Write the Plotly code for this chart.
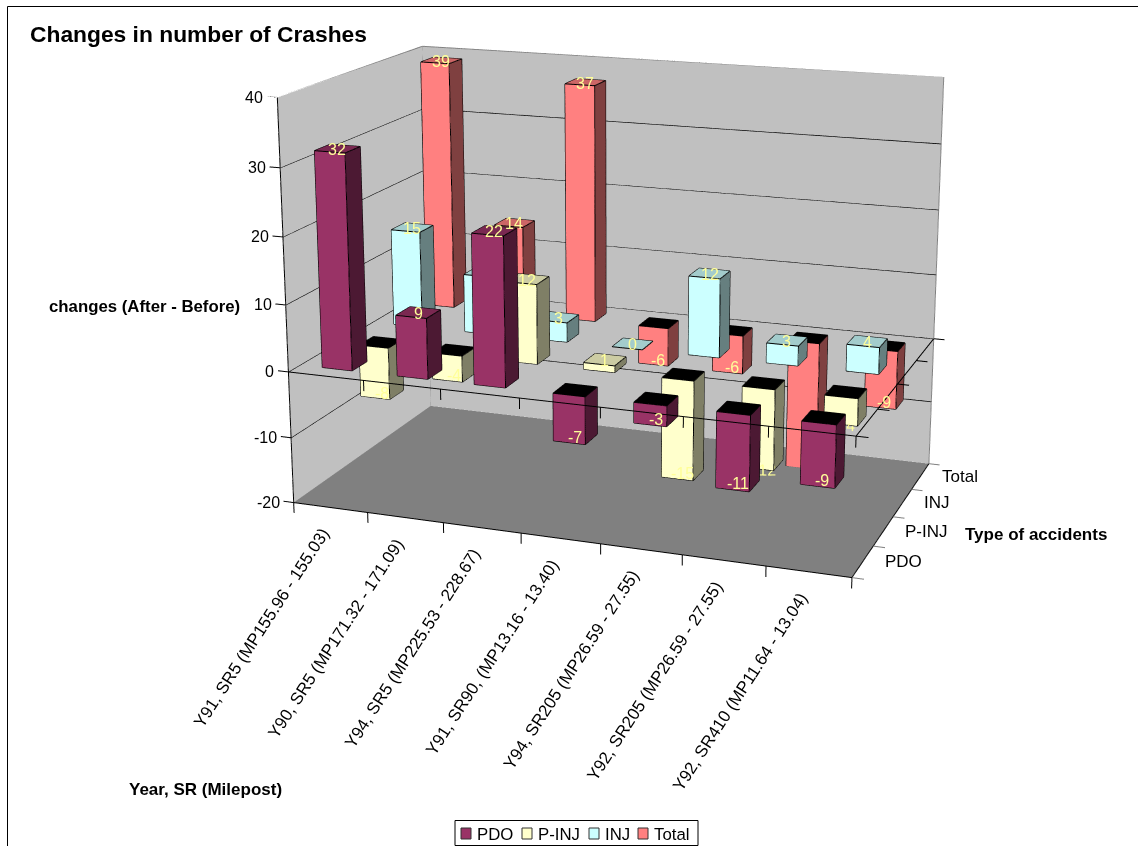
import plotly.graph_objects as go

categories = ["Y91, SR5 (MP155.96 - 155.03)", "Y90, SR5 (MP171.32 - 171.09)", "Y94, SR5 (MP225.53 - 228.67)",
              "Y91, SR90, (MP13.16 - 13.40)", "Y94, SR205 (MP26.59 - 27.55)", "Y92, SR205 (MP26.59 - 27.55)",
              "Y92, SR410 (MP11.64 - 13.04)"]
series_names = ["PDO", "P-INJ", "INJ", "Total"]
pdo = [32, 9, 22, -7, -3, -11, -9]
p_inj = [-8, -4, 12, 1, -15, -12, -4]
inj = [15, 9, 3, 0, 12, 3, 4]
total = [39, 14, 37, -6, -6, -20, -9]
series_values = [pdo, p_inj, inj, total]
colors = ["#993366", "#FFFFCC", "#CCFFFF", "#FF8080"]
z_ticks = [-20, -10, 0, 10, 20, 30, 40]
# labels that sit behind another bar in the reference: (series, category)
occluded = {(2, 1), (1, 5), (3, 5), (1, 6)}

WIN_W, WIN_H = 1138, 846
FIG_H = 1859
TOP = -640
HALF = 0.2
ZMIN, ZMAX = z_ticks[0], z_ticks[-1]
NX, NY = len(categories), len(series_names)
FONT = "Liberation Sans, Arial, sans-serif"
LABEL = "#FFFF99"
XPAD, ZPAD = .14, 1.6


def shade(c, f):
    r, g, b = int(c[1:3], 16), int(c[3:5], 16), int(c[5:7], 16)
    return "rgb(%d,%d,%d)" % (r * f, g * f, b * f)


def px(x):
    return x / WIN_W


def py(y):
    return 1 - (y - TOP) / FIG_H


traces = []
lx, ly, lz = [], [], []


def seg(*pts):
    for p in pts:
        lx.append(p[0]); ly.append(p[1]); lz.append(p[2])
    lx.append(None); ly.append(None); lz.append(None)


for s, (vals, col) in enumerate(zip(series_values, colors)):
    X, Y, Z, I, J, K, FC = [], [], [], [], [], [], []
    for c, v in enumerate(vals):
        x0, x1 = c + .5 - HALF, c + .5 + HALF
        y0, y1 = s + .5 - HALF, s + .5 + HALF
        z0, z1 = min(0, v), max(0, v)
        n = len(X)
        for zz in (z0, z1):
            for xx, yy in ((x0, y0), (x1, y0), (x1, y1), (x0, y1)):
                X.append(xx); Y.append(yy); Z.append(zz)
        top = "rgb(0,0,0)" if v < 0 else shade(col, .8)
        side = shade(col, .5)
        quads = [((0, 1, 5, 4), shade(col, 1)), ((1, 2, 6, 5), side), ((2, 3, 7, 6), side),
                 ((3, 0, 4, 7), side), ((4, 5, 6, 7), top), ((0, 1, 2, 3), shade(col, .8))]
        for q, fc in quads:
            a, b, cc, d = [n + t for t in q]
            I += [a, a]; J += [b, cc]; K += [cc, d]; FC += [fc, fc]
        for a, b in ((0, 1), (1, 2), (2, 3), (3, 0), (4, 5), (5, 6), (6, 7), (7, 4), (0, 4), (1, 5), (2, 6), (3, 7)):
            seg((X[n + a], Y[n + a], Z[n + a]), (X[n + b], Y[n + b], Z[n + b]))
    traces.append(go.Mesh3d(x=X, y=Y, z=Z, i=I, j=J, k=K, facecolor=FC, flatshading=True, name=series_names[s],
                            lighting=dict(ambient=1, diffuse=0, specular=0, fresnel=0, roughness=1),
                            hoverinfo="skip", showscale=False))

# grey wall outlines and floor side ticks
gx, gy, gz = [], [], []
grey = [((0, 0, ZMAX), (0, NY, ZMAX)), ((0, NY, ZMAX), (NX, NY, ZMAX)), ((0, NY, ZMAX), (0, NY, ZMIN)),
        ((NX, NY, ZMAX), (NX, NY, ZMIN))]
grey += [((NX, s, ZMIN), (NX + XPAD, s, ZMIN)) for s in range(NY + 1)]
for a, b in grey:
    gx += [a[0], b[0], None]; gy += [a[1], b[1], None]; gz += [a[2], b[2], None]
traces.append(go.Scatter3d(x=gx, y=gy, z=gz, mode="lines", line=dict(color="#808080", width=2),
                           hoverinfo="skip", showlegend=False))

# gridlines on walls
for t in z_ticks[1:-1]:
    seg((0, 0, t), (0, NY, t), (NX, NY, t))
# value axis and its ticks
seg((0, 0, ZMIN), (0, 0, ZMAX))
for t in z_ticks:
    seg((0, 0, t), (-XPAD, 0, t))
# floor front and right edges with ticks
seg((0, 0, ZMIN), (NX, 0, ZMIN), (NX, NY, ZMIN))
for c in range(NX + 1):
    seg((c, 0, ZMIN), (c, 0, ZMIN - ZPAD))
# zero plane front and right edges with ticks
seg((0, 0, 0), (NX, 0, 0), (NX, NY, 0))
for c in range(NX + 1):
    seg((c, 0, 0), (c, 0, -ZPAD))
for s in range(NY + 1):
    seg((NX, s, 0), (NX + XPAD, s, 0))
traces.append(go.Scatter3d(x=lx, y=ly, z=lz, mode="lines", line=dict(color="black", width=2),
                           hoverinfo="skip", showlegend=False))

# data labels
ann3 = []
ox, oy, oz, ot = [], [], [], []
for s, vals in enumerate(series_values):
    for c, v in enumerate(vals):
        if (s, c) in occluded:
            ox.append(c + .5 + .09); oy.append(s + .5 - HALF - .01); oz.append(v); ot.append(str(v))
        else:
            ann3.append(dict(x=c + .5, y=s + .5, z=v, text=str(v), showarrow=False, xanchor="center", yanchor="middle",
                             yshift=-1 if v >= 0 else 0, font=dict(family=FONT, size=16, color=LABEL)))
traces.append(go.Scatter3d(x=ox, y=oy, z=oz, text=ot, mode="text", textposition="middle center",
                           textfont=dict(family=FONT, size=16, color=LABEL), hoverinfo="skip", showlegend=False))

# tick labels
for t in z_ticks:
    ann3.append(dict(x=0, y=0, z=t, text=str(t), showarrow=False, xanchor="right", yanchor="middle", xshift=-12,
                     font=dict(family=FONT, size=16, color="black")))
for s, name in enumerate(series_names):
    ann3.append(dict(x=NX, y=s + .5, z=ZMIN, text=name, showarrow=False, xanchor="left", yanchor="middle", xshift=20,
                     font=dict(family=FONT, size=17, color="black")))
for c, name in enumerate(categories):
    ann3.append(dict(x=c + .5, y=0, z=ZMIN, text=name, showarrow=False, xanchor="right", yanchor="top", textangle=-57,
                     xshift=5, yshift=-15, font=dict(family=FONT, size=17, color="black")))

# page-level text
annotations = [
    dict(x=px(28), y=py(34), text="<b>Changes in number of Crashes</b>", font=dict(size=22.8)),
    dict(x=px(47), y=py(306), text="<b>changes (After - Before)</b>", font=dict(size=16.8)),
    dict(x=px(963), y=py(534), text="<b>Type of accidents</b>", font=dict(size=17)),
    dict(x=px(127), y=py(789), text="<b>Year, SR (Milepost)</b>", font=dict(size=17)),
]
for a in annotations:
    a.update(xref="paper", yref="paper", xanchor="left", yanchor="middle", showarrow=False)
    a["font"].update(family=FONT, color="black")

shapes = [
    dict(type="line", xref="paper", yref="paper", x0=px(7.5), x1=px(7.5), y0=py(6.5), y1=py(846), line=dict(color="black", width=1)),
    dict(type="line", xref="paper", yref="paper", x0=px(7.5), x1=px(1138), y0=py(6.5), y1=py(6.5), line=dict(color="black", width=1)),
    dict(type="rect", xref="paper", yref="paper", x0=px(455), x1=px(698), y0=py(820.5), y1=py(845.5),
         line=dict(color="black", width=1), fillcolor="white"),
]
swatch_x = [461, 522, 589, 638]
for name, col, sx in zip(series_names, colors, swatch_x):
    shapes.append(dict(type="rect", xref="paper", yref="paper", x0=px(sx), x1=px(sx + 10), y0=py(828), y1=py(839),
                       line=dict(color="#333333", width=1), fillcolor=col))
    annotations.append(dict(xref="paper", yref="paper", x=px(sx + 14), y=py(834), text=name, xanchor="left", yanchor="middle",
                            showarrow=False, font=dict(family=FONT, size=16.8, color="black")))

hidden = dict(showticklabels=False, ticks="", showline=False, zeroline=False, showgrid=False, showspikes=False,
              showbackground=False, title=dict(text=""))
# camera solved on the un-padded cube; the padded ranges keep tick marks from being clipped
ASPECT_X, ASPECT_Y, ASPECT_Z = 1, 0.5753, 0.7162
zrange = ZMAX - ZMIN
dz = ZPAD / 2 / (zrange + ZPAD) * ASPECT_Z * (zrange + ZPAD) / zrange
scene = dict(
    domain=dict(x=[99.8 / WIN_W, 1], y=[0, 1]),
    xaxis=dict(range=[-XPAD, NX + XPAD], **hidden),
    yaxis=dict(range=[0, NY], **hidden),
    zaxis=dict(range=[ZMIN - ZPAD, ZMAX], **hidden),
    aspectmode="manual",
    aspectratio=dict(x=ASPECT_X * (NX + 2 * XPAD) / NX, y=ASPECT_Y, z=ASPECT_Z * (zrange + ZPAD) / zrange),
    camera=dict(eye=dict(x=1.2849, y=-3.5595, z=1.0268 + dz), center=dict(x=0, y=0, z=dz), up=dict(x=0, y=0, z=1)),
    annotations=ann3,
)
wall = lambda xs, ys, zs, col: go.Mesh3d(x=xs, y=ys, z=zs, i=[0, 0], j=[1, 2], k=[2, 3], color=col, flatshading=True,
                                          lighting=dict(ambient=1, diffuse=0, specular=0, fresnel=0, roughness=1),
                                          hoverinfo="skip", showscale=False)
traces.insert(0, wall([0, 0, 0, 0], [0, NY, NY, 0], [ZMIN, ZMIN, ZMAX, ZMAX], "#C0C0C0"))
traces.insert(0, wall([0, NX, NX, 0], [NY, NY, NY, NY], [ZMIN, ZMIN, ZMAX, ZMAX], "#C0C0C0"))
traces.insert(0, wall([0, NX, NX, 0], [0, 0, NY, NY], [ZMIN, ZMIN, ZMIN, ZMIN], "#808080"))

fig = go.Figure(traces)
fig.update_layout(width=WIN_W, height=FIG_H, margin=dict(l=0, r=0, t=0, b=0), paper_bgcolor="white", showlegend=False,
                  scene=scene, annotations=annotations, shapes=shapes, font=dict(family=FONT))
post = ("var gd=document.getElementById('{plot_id}');document.documentElement.style.overflow='hidden';"
        "document.body.style.overflow='hidden';document.body.style.margin='0';"
        "gd.style.position='absolute';gd.style.left='0';gd.style.top='%dpx';" % TOP)
fig.write_html("out.html", post_script=post)
